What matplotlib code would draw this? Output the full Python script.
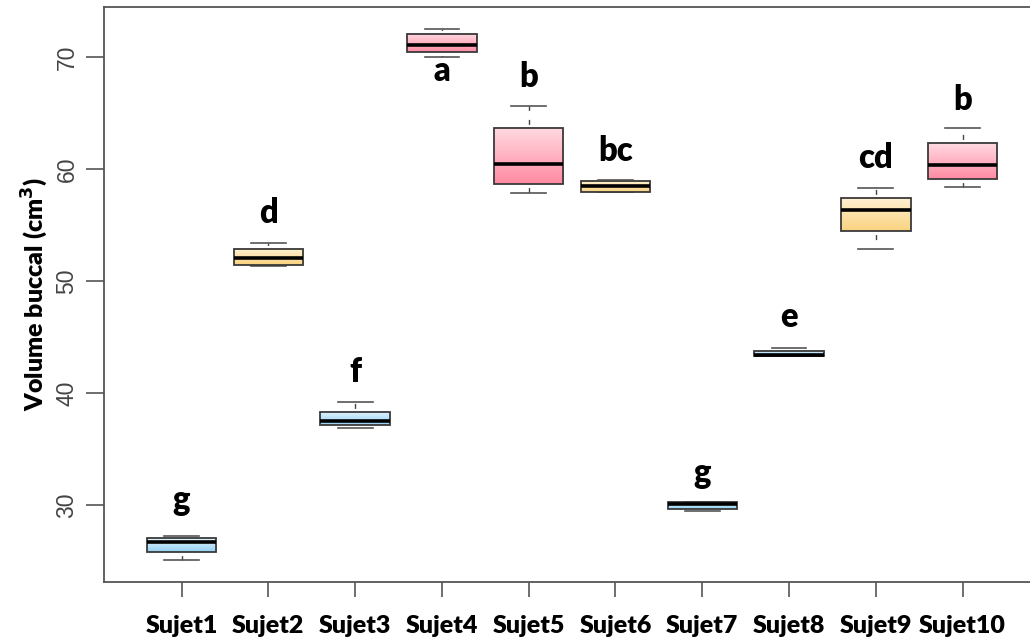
import numpy as np
import matplotlib
matplotlib.use("Agg")
import matplotlib.pyplot as plt
from matplotlib.colors import LinearSegmentedColormap

# ---- data ----
subjects = ["Sujet1", "Sujet2", "Sujet3", "Sujet4", "Sujet5",
            "Sujet6", "Sujet7", "Sujet8", "Sujet9", "Sujet10"]
whisker_low = [25.1, 51.3, 36.9, 70.0, 57.86, 57.9, 29.45, 43.28, 52.86, 58.39]
q1 = [25.8, 51.43, 37.14, 70.42, 58.63, 57.92, 29.64, 43.30, 54.46, 59.1]
median = [26.7, 52.08, 37.44, 71.07, 60.42, 58.48, 30.06, 43.38, 56.34, 60.33]
q3 = [27.05, 52.86, 38.33, 72.05, 63.69, 58.96, 30.21, 43.78, 57.44, 62.29]
whisker_high = [27.2, 53.42, 39.2, 72.47, 65.63, 59.0, 30.29, 43.96, 58.28, 63.69]
groups = ["blue", "yellow", "blue", "pink", "pink",
          "yellow", "blue", "blue", "yellow", "pink"]
letters = ["g", "d", "f", "a", "b", "bc", "g", "e", "cd", "b"]
letter_y = [29.5, 55.15, 41.0, 67.86, 67.35, 60.71, 31.99, 45.87, 60.06, 65.27]
yticks = [30, 40, 50, 60, 70]
ylabel = "Volume buccal (cm$^{\\mathbf{3}}$)"

# ---- styles ----
gradients = {
    "blue": ("#e4f4fd", "#92d0f3"),
    "pink": ("#ffdbe2", "#ff8aa2"),
    "yellow": ("#fff2d6", "#f9d27e"),
}
label_font = ["Lato", "DejaVu Sans"]

fig = plt.figure(figsize=(10.30, 6.39), dpi=100)
ax = fig.add_axes([103.5 / 1030, 1 - 581.5 / 639, (1040.7 - 103.5) / 1030, (581.5 - 7) / 639])
ax.set_xlim(0.1, 10.9)
ax.set_ylim(23.15, 74.46)

box_w = 0.8
cap_w = 0.4
xs = np.arange(1, len(subjects) + 1)
grad = np.linspace(0, 1, 256).reshape(-1, 1)

for i, x in enumerate(xs):
    top_c, bot_c = gradients[groups[i]]
    cmap = LinearSegmentedColormap.from_list("g%d" % i, [bot_c, top_c])
    ax.imshow(grad, cmap=cmap, aspect="auto", origin="lower",
              extent=(x - box_w / 2, x + box_w / 2, q1[i], q3[i]),
              zorder=2, interpolation="bilinear")
    ax.add_patch(plt.Rectangle((x - box_w / 2, q1[i]), box_w, q3[i] - q1[i],
                               fill=False, edgecolor="#3a3a3a", lw=1.3, zorder=3))
    ax.plot([x - box_w / 2, x + box_w / 2], [median[i], median[i]],
            color="black", lw=2.6, solid_capstyle="butt", zorder=4)
    ax.plot([x, x], [q3[i], whisker_high[i]], color="#444444", lw=1.0,
            linestyle=(7.5, (3.6, 6.5)), zorder=1)
    ax.plot([x, x], [q1[i], whisker_low[i]], color="#444444", lw=1.0,
            linestyle=(7.5, (3.6, 6.5)), zorder=1)
    for yv in (whisker_high[i], whisker_low[i]):
        ax.plot([x - cap_w / 2, x + cap_w / 2], [yv, yv], color="#555555",
                lw=1.2, zorder=1)
    ax.text(x, letter_y[i], letters[i], ha="center", va="baseline",
            fontsize=23.5, fontweight="heavy", family=label_font, color="black",
            zorder=5)

ax.spines["right"].set_visible(False)
for side in ("left", "bottom", "top"):
    ax.spines[side].set_color("#555555")
    ax.spines[side].set_linewidth(1.3)

ax.set_xticks(xs)
ax.set_xticklabels(subjects, fontsize=18, fontweight="heavy", family=label_font)
ax.set_yticks(yticks)
ax.set_yticklabels([str(t) for t in yticks], rotation=90, va="center",
                   fontsize=16.5, family=["Liberation Sans", "DejaVu Sans"],
                   color="#444444")
ax.tick_params(axis="x", length=11, width=1.2, color="#555555", pad=13)
ax.tick_params(axis="y", length=13, width=1.2, color="#555555", pad=5)
ax.set_ylabel(ylabel, fontsize=18, fontweight="heavy", family=label_font,
              labelpad=4)

fig.savefig("out.png", dpi=100)
